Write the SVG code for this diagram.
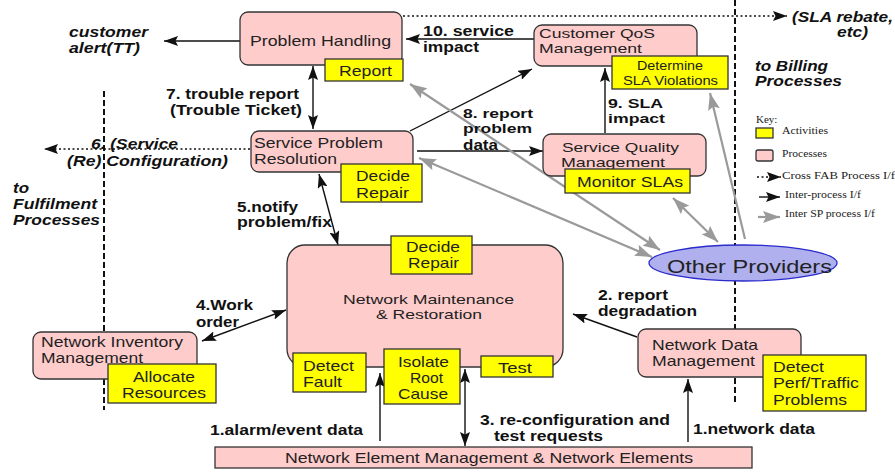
<svg xmlns="http://www.w3.org/2000/svg" width="895" height="473" viewBox="0 0 895 473">
<defs>
<style>
.proc{fill:#ffcccc;stroke:#333;stroke-width:1.3}
.act{fill:#ffff00;stroke:#333;stroke-width:1.3}
.t{font-family:"Liberation Sans",Arial,sans-serif;font-size:15px;fill:#222}
.s{font-size:13px}
.b{font-family:"Liberation Sans",Arial,sans-serif;font-size:14px;font-weight:bold;fill:#111}
.bi{font-family:"Liberation Sans",Arial,sans-serif;font-size:14px;font-weight:bold;font-style:italic;fill:#111}
.k{font-family:"Liberation Serif","Times New Roman",serif;font-size:11px;fill:#222}
.ln{stroke:#111;stroke-width:1.4;fill:none}
.dot{stroke:#111;stroke-width:1.6;stroke-dasharray:2 2.5;fill:none}
.gray{stroke:#9a9a9a;stroke-width:2.2;fill:none}
.bound{stroke:#111;stroke-width:2;stroke-dasharray:6 3;fill:none}
</style>
<marker id="ah" markerUnits="userSpaceOnUse" markerWidth="14" markerHeight="10" refX="14" refY="5" orient="auto-start-reverse">
<path d="M0,0 L14,5 L0,10 L2.5,5 z" fill="#111"/>
</marker>
<marker id="ag" markerUnits="userSpaceOnUse" markerWidth="17" markerHeight="12" refX="17" refY="6" orient="auto-start-reverse">
<path d="M0,0 L17,6 L0,12 L3,6 z" fill="#9a9a9a"/>
</marker>
</defs>

<!-- process-area boundaries -->
<g id="boundaries">
<line class="bound" x1="104" y1="91" x2="104" y2="410"/>
<line class="bound" x1="735" y1="0" x2="735" y2="403"/>
</g>

<!-- flows between processes -->
<g id="connectors">
<line class="ln" x1="240" y1="41" x2="164" y2="41" marker-end="url(#ah)"/>
<line class="dot" x1="403" y1="16" x2="787" y2="16" marker-end="url(#ah)"/>
<line class="ln" x1="534" y1="39" x2="406" y2="39" marker-end="url(#ah)"/>
<line class="ln" x1="313" y1="66" x2="313" y2="129" marker-start="url(#ah)" marker-end="url(#ah)"/>
<line class="dot" x1="250" y1="149" x2="44" y2="149" marker-end="url(#ah)"/>
<line class="ln" x1="410" y1="131" x2="532" y2="69" marker-end="url(#ah)"/>
<line class="ln" x1="417" y1="151" x2="543" y2="151" marker-end="url(#ah)"/>
<line class="ln" x1="605" y1="133" x2="605" y2="68" marker-end="url(#ah)"/>
<line class="ln" x1="319" y1="174" x2="338" y2="245" marker-start="url(#ah)" marker-end="url(#ah)"/>
<line class="ln" x1="202" y1="341" x2="286" y2="310" marker-start="url(#ah)" marker-end="url(#ah)"/>
<line class="ln" x1="637" y1="337" x2="573" y2="314" marker-end="url(#ah)"/>
<line class="ln" x1="380" y1="441" x2="380" y2="373" marker-end="url(#ah)"/>
<line class="ln" x1="465" y1="369" x2="465" y2="446" marker-start="url(#ah)" marker-end="url(#ah)"/>
<line class="ln" x1="688" y1="442" x2="688" y2="379" marker-end="url(#ah)"/>
<line class="gray" x1="410" y1="84" x2="660" y2="250" marker-start="url(#ag)" marker-end="url(#ag)"/>
<line class="gray" x1="419" y1="158" x2="652" y2="257" marker-start="url(#ag)" marker-end="url(#ag)"/>
<line class="gray" x1="673" y1="198" x2="718" y2="242" marker-start="url(#ag)" marker-end="url(#ag)"/>
<line class="gray" x1="745" y1="239" x2="710" y2="93" marker-end="url(#ag)"/>
</g>

<g id="problem-handling">
<rect class="proc" x="240" y="12" width="162" height="53" rx="8"/>
<text class="t" x="250" y="46" textLength="141" lengthAdjust="spacingAndGlyphs">Problem Handling</text>
<rect class="act" x="325" y="59" width="78" height="22"/>
<text class="t" x="339" y="76" textLength="53" lengthAdjust="spacingAndGlyphs">Report</text>
</g>

<g id="customer-qos">
<rect class="proc" x="534" y="25" width="163" height="41" rx="8"/>
<text class="t s" x="539" y="38" textLength="116" lengthAdjust="spacingAndGlyphs">Customer QoS</text>
<text class="t s" x="539" y="53" textLength="103" lengthAdjust="spacingAndGlyphs">Management</text>
<rect class="act" x="612" y="56" width="116" height="33"/>
<text class="t s" x="637" y="70" textLength="66" lengthAdjust="spacingAndGlyphs">Determine</text>
<text class="t s" x="623" y="85" textLength="95" lengthAdjust="spacingAndGlyphs">SLA Violations</text>
</g>

<g id="service-problem-resolution">
<rect class="proc" x="251" y="131" width="162" height="41" rx="8"/>
<text class="t" x="254" y="148" textLength="129" lengthAdjust="spacingAndGlyphs">Service Problem</text>
<text class="t" x="254" y="164" textLength="83" lengthAdjust="spacingAndGlyphs">Resolution</text>
<rect class="act" x="341" y="164" width="81" height="38"/>
<text class="t" x="356" y="181" textLength="54" lengthAdjust="spacingAndGlyphs">Decide</text>
<text class="t" x="356" y="198" textLength="53" lengthAdjust="spacingAndGlyphs">Repair</text>
</g>

<g id="service-quality">
<rect class="proc" x="543" y="134" width="163" height="42" rx="8"/>
<text class="t s" x="562" y="152" textLength="117" lengthAdjust="spacingAndGlyphs">Service Quality</text>
<text class="t s" x="561" y="167" textLength="104" lengthAdjust="spacingAndGlyphs">Management</text>
<rect class="act" x="565" y="169" width="125" height="24"/>
<text class="t" x="577" y="187" textLength="106" lengthAdjust="spacingAndGlyphs">Monitor SLAs</text>
</g>

<g id="network-maintenance">
<rect class="proc" x="287" y="245" width="276" height="122" rx="18"/>
<text class="t s" x="343" y="303.5" textLength="171" lengthAdjust="spacingAndGlyphs">Network Maintenance</text>
<text class="t s" x="376" y="318.5" textLength="106" lengthAdjust="spacingAndGlyphs">&amp; Restoration</text>
<rect class="act" x="391" y="236" width="81" height="38"/>
<text class="t" x="406" y="252" textLength="54" lengthAdjust="spacingAndGlyphs">Decide</text>
<text class="t" x="408" y="268" textLength="51" lengthAdjust="spacingAndGlyphs">Repair</text>
<rect class="act" x="293" y="353" width="73" height="39"/>
<text class="t" x="303" y="371" textLength="51" lengthAdjust="spacingAndGlyphs">Detect</text>
<text class="t" x="303" y="387" textLength="39" lengthAdjust="spacingAndGlyphs">Fault</text>
<rect class="act" x="384" y="349" width="76" height="55"/>
<text class="t" x="398" y="367" textLength="51" lengthAdjust="spacingAndGlyphs">Isolate</text>
<text class="t" x="410" y="383" textLength="33" lengthAdjust="spacingAndGlyphs">Root</text>
<text class="t" x="398" y="399" textLength="50" lengthAdjust="spacingAndGlyphs">Cause</text>
<rect class="act" x="481" y="356" width="72" height="21"/>
<text class="t" x="498" y="373" textLength="34" lengthAdjust="spacingAndGlyphs">Test</text>
</g>

<g id="network-inventory">
<rect class="proc" x="33" y="332" width="164" height="47" rx="8"/>
<text class="t" x="41" y="347" textLength="142" lengthAdjust="spacingAndGlyphs">Network Inventory</text>
<text class="t" x="41" y="363" textLength="102" lengthAdjust="spacingAndGlyphs">Management</text>
<rect class="act" x="108" y="364" width="108" height="39"/>
<text class="t" x="133" y="382" textLength="62" lengthAdjust="spacingAndGlyphs">Allocate</text>
<text class="t" x="122" y="398" textLength="84" lengthAdjust="spacingAndGlyphs">Resources</text>
</g>

<g id="network-data">
<rect class="proc" x="638" y="329" width="163" height="48" rx="8"/>
<text class="t" x="652" y="350" textLength="106" lengthAdjust="spacingAndGlyphs">Network Data</text>
<text class="t" x="652" y="366" textLength="103" lengthAdjust="spacingAndGlyphs">Management</text>
<rect class="act" x="763" y="355" width="103" height="56"/>
<text class="t" x="773" y="372" textLength="51" lengthAdjust="spacingAndGlyphs">Detect</text>
<text class="t" x="773" y="388" textLength="86" lengthAdjust="spacingAndGlyphs">Perf/Traffic</text>
<text class="t" x="773" y="405" textLength="74" lengthAdjust="spacingAndGlyphs">Problems</text>
</g>

<g id="network-elements">
<rect class="proc" x="215" y="447" width="537" height="21"/>
<text class="t" x="285" y="463" textLength="408" lengthAdjust="spacingAndGlyphs">Network Element Management &amp; Network Elements</text>
</g>

<g id="other-providers">
<ellipse cx="743" cy="263" rx="94" ry="18" fill="#b0b0ee" stroke="#2b2bcc" stroke-width="1.3"/>
<text class="t" x="667" y="273" style="font-size:19px" textLength="165" lengthAdjust="spacingAndGlyphs">Other Providers</text>
</g>

<!-- flow labels -->
<g id="labels">
<text class="bi" x="69" y="37" textLength="79" lengthAdjust="spacingAndGlyphs">customer</text>
<text class="bi" x="69" y="53" textLength="71" lengthAdjust="spacingAndGlyphs">alert(TT)</text>
<text class="b" x="166" y="99" textLength="133" lengthAdjust="spacingAndGlyphs">7. trouble report</text>
<text class="b" x="170" y="115" textLength="132" lengthAdjust="spacingAndGlyphs">(Trouble Ticket)</text>
<text class="bi" x="91" y="149" textLength="87" lengthAdjust="spacingAndGlyphs">6. (Service</text>
<text class="bi" x="67" y="166" textLength="161" lengthAdjust="spacingAndGlyphs">(Re) Configuration)</text>
<text class="bi" x="13" y="193" textLength="16" lengthAdjust="spacingAndGlyphs">to</text>
<text class="bi" x="13" y="209" textLength="84" lengthAdjust="spacingAndGlyphs">Fulfilment</text>
<text class="bi" x="13" y="225" textLength="87" lengthAdjust="spacingAndGlyphs">Processes</text>
<text class="b" x="237" y="212" textLength="61" lengthAdjust="spacingAndGlyphs">5.notify</text>
<text class="b" x="237" y="227" textLength="95" lengthAdjust="spacingAndGlyphs">problem/fix</text>
<text class="b" x="423" y="36" textLength="91" lengthAdjust="spacingAndGlyphs">10. service</text>
<text class="b" x="423" y="52" textLength="56" lengthAdjust="spacingAndGlyphs">impact</text>
<text class="bi" x="792" y="22" textLength="101" lengthAdjust="spacingAndGlyphs">(SLA rebate,</text>
<text class="bi" x="837" y="37" textLength="31" lengthAdjust="spacingAndGlyphs">etc)</text>
<text class="bi" x="755" y="71" textLength="73" lengthAdjust="spacingAndGlyphs">to Billing</text>
<text class="bi" x="755" y="86" textLength="87" lengthAdjust="spacingAndGlyphs">Processes</text>
<text class="b" x="463" y="117.5" style="font-size:13px" textLength="70" lengthAdjust="spacingAndGlyphs">8. report</text>
<text class="b" x="463" y="133" style="font-size:13px" textLength="69" lengthAdjust="spacingAndGlyphs">problem</text>
<text class="b" x="463" y="150" textLength="35" lengthAdjust="spacingAndGlyphs">data</text>
<text class="b" x="608" y="107.5" style="font-size:13px" textLength="55" lengthAdjust="spacingAndGlyphs">9. SLA</text>
<text class="b" x="608" y="123" style="font-size:13px" textLength="57" lengthAdjust="spacingAndGlyphs">impact</text>
<text class="b" x="196" y="310" textLength="57" lengthAdjust="spacingAndGlyphs">4.Work</text>
<text class="b" x="196" y="327" textLength="43" lengthAdjust="spacingAndGlyphs">order</text>
<text class="b" x="598" y="300" textLength="70" lengthAdjust="spacingAndGlyphs">2. report</text>
<text class="b" x="598" y="316" textLength="99" lengthAdjust="spacingAndGlyphs">degradation</text>
<text class="b" x="210" y="435" textLength="153" lengthAdjust="spacingAndGlyphs">1.alarm/event data</text>
<text class="b" x="480" y="425" textLength="190" lengthAdjust="spacingAndGlyphs">3. re-configuration and</text>
<text class="b" x="494" y="441" textLength="109" lengthAdjust="spacingAndGlyphs">test requests</text>
<text class="b" x="693" y="434" textLength="122" lengthAdjust="spacingAndGlyphs">1.network data</text>
</g>

<g id="key">
<text class="k" x="756" y="123">Key:</text>
<rect class="act" x="756" y="128" width="17" height="10"/>
<text class="k" x="782" y="134" textLength="46" lengthAdjust="spacingAndGlyphs">Activities</text>
<rect class="proc" x="756" y="150" width="17" height="11" rx="2"/>
<text class="k" x="782" y="157" textLength="45" lengthAdjust="spacingAndGlyphs">Processes</text>
<line class="dot" x1="757" y1="177" x2="781" y2="177" marker-end="url(#ah)"/>
<text class="k" x="782" y="179" textLength="113" lengthAdjust="spacingAndGlyphs">Cross FAB Process I/f</text>
<line class="ln" x1="759" y1="197" x2="780" y2="197" marker-end="url(#ah)"/>
<text class="k" x="785" y="198" textLength="76" lengthAdjust="spacingAndGlyphs">Inter-process I/f</text>
<line class="gray" x1="758" y1="217" x2="780" y2="217" marker-end="url(#ag)"/>
<text class="k" x="785" y="217" textLength="90" lengthAdjust="spacingAndGlyphs">Inter SP process I/f</text>
</g>
</svg>
